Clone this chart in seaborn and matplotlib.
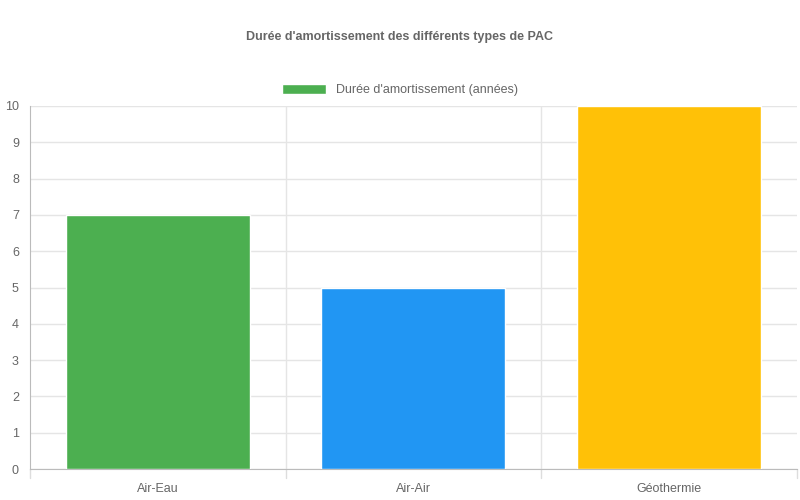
import matplotlib
matplotlib.use("Agg")
import matplotlib.pyplot as plt
import seaborn as sns
import pandas as pd
from matplotlib.patches import Patch

categories = ["Air-Eau", "Air-Air", "Géothermie"]
values = [7, 5, 10]
colors = ["#4CAF50", "#2196F3", "#FFC107"]

sns.set_style("white")
plt.rcParams["font.family"] = ["Liberation Sans", "DejaVu Sans"]

df = pd.DataFrame({"type": categories, "val": values})
fig = plt.figure(figsize=(8, 5), dpi=100)
ax = fig.add_axes([0.0375, 0.062, 0.9585, 0.726])
sns.barplot(data=df, x="type", y="val", hue="type", palette=colors, width=0.72,
            saturation=1, legend=False, ax=ax, zorder=3)

ax.set_ylim(0, 10)
ax.set_xlim(-0.5, 2.5)
ax.set_yticks(range(11))
ax.set_xlabel("")
ax.set_ylabel("")
ax.grid(axis="y", color="#e5e5e5", lw=1, zorder=0)
for b in [0.5, 1.5]:
    ax.axvline(b, color="#e5e5e5", lw=1, zorder=0)
for s in ["top", "right"]:
    ax.spines[s].set_visible(False)
for s in ["left", "bottom"]:
    ax.spines[s].set_color("#bbbbbb")
ax.tick_params(axis="y", colors="#666666", labelsize=9, length=0, pad=8)
ax.tick_params(axis="x", colors="#666666", labelsize=9, length=0, pad=10)
for b in [-0.5, 0.5, 1.5, 2.5]:
    ax.plot([b, b], [0, -0.25], color="#dddddd", lw=1, clip_on=False)

fig.text(0.5, 0.926, "Durée d'amortissement des différents types de PAC",
         ha="center", va="center", fontsize=9, fontweight="bold", color="#666666")
fig.legend(handles=[Patch(facecolor="#4CAF50", label="Durée d'amortissement (années)")],
           loc="center", bbox_to_anchor=(0.5, 0.82), frameon=False, fontsize=9,
           labelcolor="#666666", handlelength=3.5, handleheight=0.9)

fig.savefig("out.png", dpi=100)
